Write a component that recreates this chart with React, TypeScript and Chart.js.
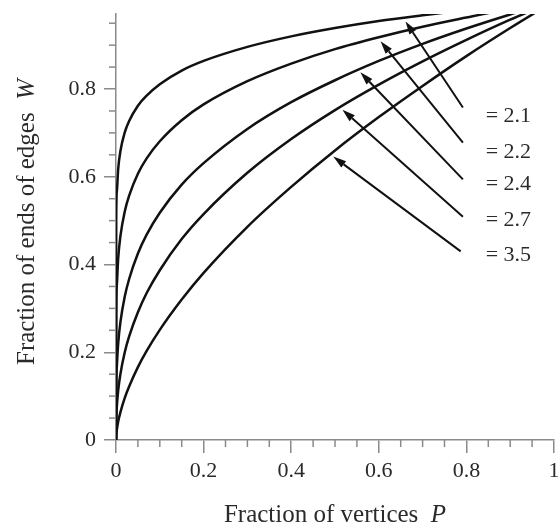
import React, { useEffect, useRef } from "react";
import { Chart, registerables } from "chart.js";

Chart.register(...registerables);

// Fraction of vertices P (sample positions)
const P = [0, 0.0005, 0.002, 0.005, 0.01, 0.02, 0.03, 0.05, 0.07, 0.1, 0.15, 0.2, 0.3, 0.4, 0.5, 0.6, 0.7, 0.8, 0.9, 1];

// Fraction of ends of edges W for each curve
const W21 = [0, 0.5, 0.568, 0.618, 0.658, 0.701, 0.727, 0.762, 0.785, 0.811, 0.842, 0.864, 0.896, 0.92, 0.939, 0.955, 0.968, 0.98, 0.99, 1];
const W22 = [0, 0.282, 0.355, 0.414, 0.464, 0.521, 0.557, 0.607, 0.642, 0.681, 0.729, 0.765, 0.818, 0.858, 0.891, 0.918, 0.942, 0.963, 0.983, 1];
const W24 = [0, 0.114, 0.169, 0.22, 0.268, 0.327, 0.367, 0.425, 0.468, 0.518, 0.582, 0.631, 0.709, 0.77, 0.82, 0.864, 0.903, 0.938, 0.97, 1];
const W27 = [0, 0.044, 0.077, 0.113, 0.15, 0.2, 0.236, 0.291, 0.335, 0.387, 0.458, 0.515, 0.609, 0.686, 0.752, 0.81, 0.863, 0.912, 0.958, 1];
const W35 = [0, 0.0105, 0.024, 0.042, 0.063, 0.096, 0.122, 0.166, 0.203, 0.251, 0.32, 0.381, 0.486, 0.577, 0.66, 0.736, 0.807, 0.875, 0.939, 1];

const SERIES = [W21, W22, W24, W27, W35];

// Annotation labels and arrows (data coordinates)
const LABELS = ["= 2.1", "= 2.2", "= 2.4", "= 2.7", "= 3.5"];
const LABEL_P = [0.844, 0.844, 0.844, 0.844, 0.844];
const LABEL_W = [0.737, 0.657, 0.582, 0.502, 0.422];
const ARROW_TAIL_P = [0.792, 0.792, 0.792, 0.792, 0.787];
const ARROW_TAIL_W = [0.758, 0.678, 0.594, 0.509, 0.43];
const ARROW_HEAD_P = [0.661, 0.604, 0.558, 0.517, 0.496];
const ARROW_HEAD_W = [0.954, 0.909, 0.838, 0.753, 0.646];

const X_TITLE = "Fraction of vertices";
const X_VAR = "P";
const Y_TITLE = "Fraction of ends of edges";
const Y_VAR = "W";

const FONT_FAMILY = "'Liberation Serif', 'Times New Roman', serif";
const TEXT_COLOR = "#2a2a2a";
const AXIS_COLOR = "#8a8a8a";

const overlayPlugin = {
  id: "overlay",
  afterDraw(chart: any) {
    const ctx = chart.ctx;
    const xs = chart.scales.x;
    const ys = chart.scales.y;
    const area = chart.chartArea;
    ctx.save();

    // minor ticks
    ctx.strokeStyle = AXIS_COLOR;
    ctx.lineWidth = 1.5;
    for (let i = 1; i < 20; i++) {
      if (i % 4 === 0) continue;
      const v = i * 0.05;
      const px = xs.getPixelForValue(v);
      ctx.beginPath();
      ctx.moveTo(px, area.bottom);
      ctx.lineTo(px, area.bottom + 7);
      ctx.stroke();
      if (v <= ys.max + 1e-9) {
        const py = ys.getPixelForValue(v);
        ctx.beginPath();
        ctx.moveTo(area.left, py);
        ctx.lineTo(area.left - 7, py);
        ctx.stroke();
      }
    }

    // arrows
    ctx.strokeStyle = "#111";
    ctx.fillStyle = "#111";
    ctx.lineWidth = 2;
    for (let i = 0; i < LABELS.length; i++) {
      const x1 = xs.getPixelForValue(ARROW_TAIL_P[i]);
      const y1 = ys.getPixelForValue(ARROW_TAIL_W[i]);
      const x2 = xs.getPixelForValue(ARROW_HEAD_P[i]);
      const y2 = ys.getPixelForValue(ARROW_HEAD_W[i]);
      const ang = Math.atan2(y2 - y1, x2 - x1);
      const hl = 13;
      const hw = 4;
      const bx = x2 - hl * Math.cos(ang);
      const by = y2 - hl * Math.sin(ang);
      ctx.beginPath();
      ctx.moveTo(x1, y1);
      ctx.lineTo(bx, by);
      ctx.stroke();
      ctx.beginPath();
      ctx.moveTo(x2, y2);
      ctx.lineTo(bx + hw * Math.sin(ang), by - hw * Math.cos(ang));
      ctx.lineTo(bx - hw * Math.sin(ang), by + hw * Math.cos(ang));
      ctx.closePath();
      ctx.fill();
    }

    // labels
    ctx.fillStyle = TEXT_COLOR;
    ctx.font = `22px ${FONT_FAMILY}`;
    ctx.textAlign = "left";
    ctx.textBaseline = "middle";
    for (let i = 0; i < LABELS.length; i++) {
      ctx.fillText(LABELS[i], xs.getPixelForValue(LABEL_P[i]), ys.getPixelForValue(LABEL_W[i]));
    }

    // axis titles with italic variable
    const regular = `25px ${FONT_FAMILY}`;
    const italic = `italic 25px ${FONT_FAMILY}`;
    const gap = "  ";
    ctx.textBaseline = "alphabetic";
    // x title
    ctx.font = regular;
    const wx1 = ctx.measureText(X_TITLE + gap).width;
    ctx.font = italic;
    const wx2 = ctx.measureText(X_VAR).width;
    const cx = (area.left + area.right) / 2;
    const baseY = 522;
    const sx = cx - (wx1 + wx2) / 2;
    ctx.font = regular;
    ctx.fillText(X_TITLE + gap, sx, baseY);
    ctx.font = italic;
    ctx.fillText(X_VAR, sx + wx1, baseY);

    // y title
    ctx.font = regular;
    const wy1 = ctx.measureText(Y_TITLE + gap).width;
    ctx.font = italic;
    const wy2 = ctx.measureText(Y_VAR).width;
    const cy = 222;
    ctx.save();
    ctx.translate(34, cy);
    ctx.rotate(-Math.PI / 2);
    const sy = -(wy1 + wy2) / 2;
    ctx.font = regular;
    ctx.fillText(Y_TITLE + gap, sy, 0);
    ctx.font = italic;
    ctx.fillText(Y_VAR, sy + wy1, 0);
    ctx.restore();

    ctx.restore();
  },
};

export default function App() {
  const ref = useRef<HTMLCanvasElement | null>(null);
  useEffect(() => {
    if (!ref.current) return;
    const chart = new Chart(ref.current, {
      type: "line",
      data: {
        datasets: SERIES.map((s, i) => ({
          label: LABELS[i],
          data: P.map((p, j) => ({ x: p, y: s[j] })),
          borderColor: "#111",
          borderWidth: 2.5,
          pointRadius: 0,
          fill: false,
          cubicInterpolationMode: "monotone" as const,
          clip: 0,
        })),
      },
      options: {
        animation: false,
        responsive: false,
        layout: { padding: { top: 14, left: 0, right: 0, bottom: 0 } },
        plugins: { legend: { display: false }, tooltip: { enabled: false } },
        scales: {
          x: {
            type: "linear",
            min: 0,
            max: 1,
            afterFit: (s: any) => {
              s.height = 92;
              s.paddingRight = 4;
              s.paddingLeft = 0;
            },
            grid: { drawOnChartArea: false, drawTicks: true, tickLength: 13, color: AXIS_COLOR, lineWidth: 1.5 },
            border: { color: AXIS_COLOR, width: 1.5 },
            ticks: {
              stepSize: 0.2,
              includeBounds: false,
              padding: 5,
              color: TEXT_COLOR,
              font: { family: FONT_FAMILY, size: 22 },
              callback: (v: any) => (Math.abs(v) < 1e-9 ? "0" : Math.abs(v - 1) < 1e-9 ? "1" : Number(v).toFixed(1)),
            },
          },
          y: {
            type: "linear",
            min: 0,
            max: 0.971,
            afterFit: (s: any) => {
              s.width = 116;
              s.paddingTop = 0;
              s.paddingBottom = 0;
            },
            grid: { drawOnChartArea: false, drawTicks: true, tickLength: 12, color: AXIS_COLOR, lineWidth: 1.5 },
            border: { color: AXIS_COLOR, width: 1.5 },
            ticks: {
              stepSize: 0.2,
              includeBounds: false,
              padding: 8,
              color: TEXT_COLOR,
              font: { family: FONT_FAMILY, size: 22 },
              callback: (v: any) => (Math.abs(v) < 1e-9 ? "0" : Number(v).toFixed(1)),
            },
          },
        },
      },
      plugins: [overlayPlugin],
    });
    return () => chart.destroy();
  }, []);
  return (
    <canvas
      ref={ref}
      width={558}
      height={532}
      style={{ position: "absolute", left: 0, top: 0, display: "block" }}
    />
  );
}
